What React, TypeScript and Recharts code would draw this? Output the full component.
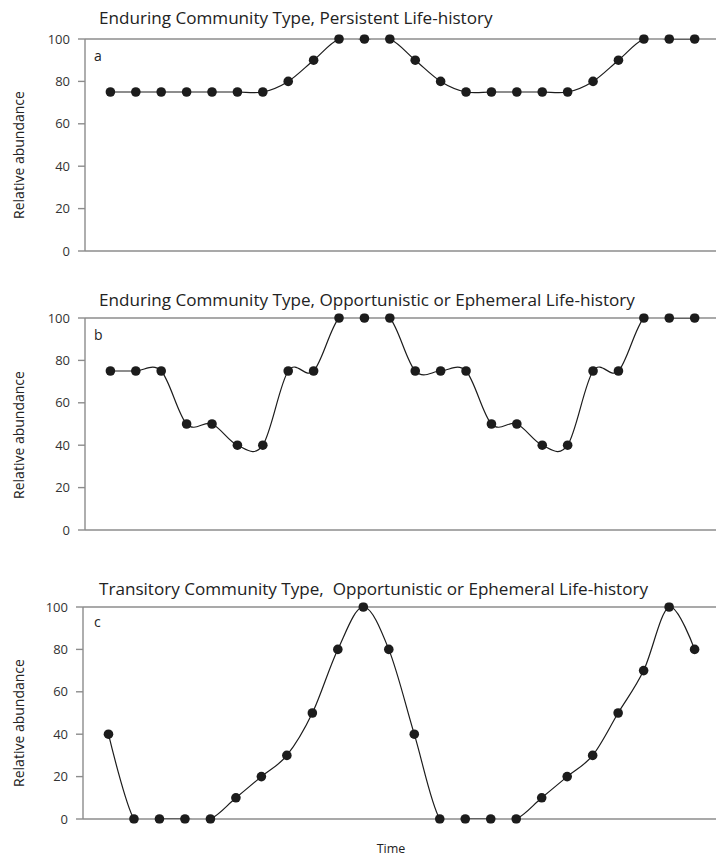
import React from 'react';
import { LineChart, Line, XAxis, YAxis, CartesianGrid } from 'recharts';

const timeSteps = [1, 2, 3, 4, 5, 6, 7, 8, 9, 10, 11, 12, 13, 14, 15, 16, 17, 18, 19, 20, 21, 22, 23, 24];
const persistentLifeHistory = [75, 75, 75, 75, 75, 75, 75, 80, 90, 100, 100, 100, 90, 80, 75, 75, 75, 75, 75, 80, 90, 100, 100, 100];
const enduringOpportunistic = [75, 75, 75, 50, 50, 40, 40, 75, 75, 100, 100, 100, 75, 75, 75, 50, 50, 40, 40, 75, 75, 100, 100, 100];
const transitoryOpportunistic = [40, 0, 0, 0, 0, 10, 20, 30, 50, 80, 100, 80, 40, 0, 0, 0, 0, 10, 20, 30, 50, 70, 100, 80];
const yTicks = [0, 20, 40, 60, 80, 100];
const panelTitles = [
  'Enduring Community Type, Persistent Life-history',
  'Enduring Community Type, Opportunistic or Ephemeral Life-history',
  'Transitory Community Type,  Opportunistic or Ephemeral Life-history',
];
const panelLetters = ['a', 'b', 'c'];
const yAxisTitle = 'Relative abundance';
const xAxisTitle = 'Time';

const FONT = '"Open Sans", "Noto Sans", sans-serif';
const AXIS_GRAY = '#8c8c8c';
const INK = '#1c1c1c';

// Cardinal (Catmull-Rom style) spline through the points, like d3.curveCardinal with tension 0
const cardinalCurve = (context: any) => {
  let pts: [number, number][] = [];
  return {
    areaStart() {},
    areaEnd() {},
    lineStart() {
      pts = [];
    },
    lineEnd() {
      const n = pts.length;
      if (!n) return;
      context.moveTo(pts[0][0], pts[0][1]);
      if (n === 1) return;
      const k = 1 / 6;
      for (let i = 0; i < n - 1; i++) {
        const p1 = pts[i];
        const p2 = pts[i + 1];
        const p0 = i > 0 ? pts[i - 1] : p2;
        const p3 = i + 2 < n ? pts[i + 2] : p1;
        context.bezierCurveTo(
          p1[0] + k * (p2[0] - p0[0]),
          p1[1] + k * (p2[1] - p0[1]),
          p2[0] - k * (p3[0] - p1[0]),
          p2[1] - k * (p3[1] - p1[1]),
          p2[0],
          p2[1]
        );
      }
    },
    point(x: number, y: number) {
      pts.push([+x, +y]);
    },
  };
};

type PanelProps = {
  values: number[];
  title: string;
  letter: string;
  top: number;
  height: number;
  plotTop: number;
  plotBottom: number;
  axisX: number;
  titleY: number;
  letterY: number;
  yTitleY: number;
};

function Panel(p: PanelProps) {
  const data = timeSteps.map((t, i) => ({ t, v: p.values[i] }));
  return (
    <>
      <div style={{ position: 'absolute', left: 0, top: p.top, width: 716, height: p.height }}>
        <LineChart
          width={716}
          height={p.height}
          data={data}
          margin={{ top: p.plotTop - p.top, right: 0, bottom: p.top + p.height - p.plotBottom, left: 0 }}
        >
          <CartesianGrid
            vertical={false}
            horizontalValues={[0, 100]}
            stroke={AXIS_GRAY}
            strokeWidth={1.4}
          />
          <XAxis dataKey="t" type="number" domain={[0, 24.84]} hide allowDataOverflow />
          <YAxis
            domain={[0, 100]}
            ticks={yTicks}
            width={p.axisX}
            interval={0}
            allowDataOverflow
            tickSize={7}
            tickMargin={8}
            axisLine={{ stroke: AXIS_GRAY, strokeWidth: 1.4 }}
            tickLine={{ stroke: AXIS_GRAY, strokeWidth: 1.4 }}
            tick={{ fontSize: 13, fill: '#333', fontFamily: FONT }}
          />
          <Line
            dataKey="v"
            type={cardinalCurve as any}
            stroke={INK}
            strokeWidth={1.2}
            dot={{ r: 4.8, fill: INK, stroke: INK, strokeWidth: 0, clipDot: false } as any}
            activeDot={false}
            isAnimationActive={false}
          />
        </LineChart>
      </div>
      <div
        style={{
          position: 'absolute',
          left: 99,
          top: p.titleY - 12,
          height: 24,
          lineHeight: '24px',
          fontFamily: FONT,
          fontSize: 17.1,
          color: '#222',
          whiteSpace: 'pre',
        }}
      >
        {p.title}
      </div>
      <div
        style={{
          position: 'absolute',
          left: 94,
          top: p.letterY - 10,
          height: 20,
          lineHeight: '20px',
          fontFamily: FONT,
          fontSize: 14,
          color: '#222',
        }}
      >
        {p.letter}
      </div>
      <div
        style={{
          position: 'absolute',
          left: 19,
          top: p.yTitleY,
          transform: 'translate(-50%, -50%) rotate(-90deg)',
          fontFamily: FONT,
          fontSize: 14,
          lineHeight: '18px',
          color: '#222',
          whiteSpace: 'nowrap',
        }}
      >
        {yAxisTitle}
      </div>
    </>
  );
}

export default function App() {
  return (
    <div style={{ position: 'absolute', left: 0, top: 0, width: 716, height: 859, overflow: 'hidden', background: '#fff' }}>
      <Panel
        values={persistentLifeHistory}
        title={panelTitles[0]}
        letter={panelLetters[0]}
        top={0}
        height={270}
        plotTop={39}
        plotBottom={251}
        axisX={85}
        titleY={18}
        letterY={56}
        yTitleY={155}
      />
      <Panel
        values={enduringOpportunistic}
        title={panelTitles[1]}
        letter={panelLetters[1]}
        top={275}
        height={270}
        plotTop={318}
        plotBottom={530}
        axisX={85}
        titleY={300}
        letterY={335}
        yTitleY={435}
      />
      <Panel
        values={transitoryOpportunistic}
        title={panelTitles[2]}
        letter={panelLetters[2]}
        top={560}
        height={280}
        plotTop={607}
        plotBottom={819}
        axisX={83}
        titleY={589}
        letterY={622}
        yTitleY={723}
      />
      <div
        style={{
          position: 'absolute',
          left: 391,
          top: 849,
          transform: 'translate(-50%, -50%)',
          fontFamily: FONT,
          fontSize: 12.5,
          lineHeight: '16px',
          color: '#222',
        }}
      >
        {xAxisTitle}
      </div>
    </div>
  );
}
